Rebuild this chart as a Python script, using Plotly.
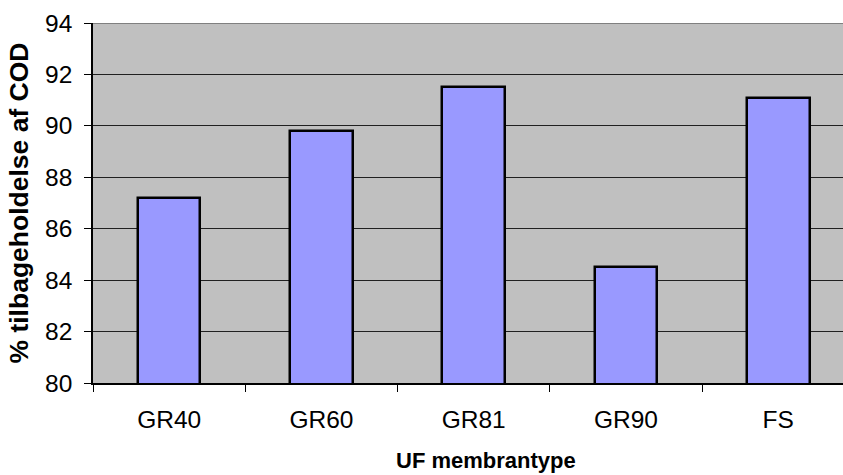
import plotly.graph_objects as go

# Membrane types and COD retention (%)
membranes = ["GR40", "GR60", "GR81", "GR90", "FS"]
retention = [87.2, 89.8, 91.5, 84.5, 91.1]
y_ticks = [80, 82, 84, 86, 88, 90, 92, 94]

font_family = "Liberation Sans, Arial, sans-serif"

fig = go.Figure(
    go.Bar(
        x=membranes,
        y=retention,
        width=0.41,
        marker=dict(color="#9999FF", line=dict(color="black", width=2.5)),
    )
)

fig.update_layout(
    width=843,
    height=475,
    margin=dict(l=93, r=0, t=23, b=92),
    paper_bgcolor="white",
    plot_bgcolor="#C0C0C0",
    showlegend=False,
    font=dict(family=font_family, size=24, color="black"),
    bargap=0,
)

fig.update_xaxes(
    type="category",
    range=[-0.5, 4.425],
    tickson="boundaries",
    ticks="outside",
    ticklen=7,
    tickcolor="black",
    tickwidth=1,
    showline=True,
    linecolor="black",
    linewidth=1.5,
    showgrid=False,
    tickfont=dict(family=font_family, size=24.5),
    ticklabelstandoff=14,
)

fig.update_yaxes(
    range=[80, 94],
    tickvals=y_ticks,
    ticks="outside",
    ticklen=7,
    tickcolor="black",
    tickwidth=1,
    showline=True,
    linecolor="black",
    linewidth=1.5,
    showgrid=True,
    gridcolor="#202020",
    gridwidth=1,
    zeroline=False,
    tickfont=dict(family=font_family, size=24.5),
    ticklabelstandoff=7,
    title=dict(
        text="<b>% tilbageholdelse af COD</b>",
        font=dict(family=font_family, size=26.5),
        standoff=9,
    ),
)

# x-axis title, centred under the full category band
fig.add_annotation(
    text="<b>UF membrantype</b>",
    xref="paper",
    yref="paper",
    x=0.524,
    y=-0.215,
    xanchor="center",
    yanchor="middle",
    showarrow=False,
    font=dict(family=font_family, size=22),
)

# Grey frame line along the top of the plotting area
fig.add_shape(
    type="line",
    xref="paper",
    yref="y",
    x0=0,
    x1=1,
    y0=94,
    y1=94,
    line=dict(color="#808080", width=2),
    layer="above",
)

fig.write_html("out.html")
